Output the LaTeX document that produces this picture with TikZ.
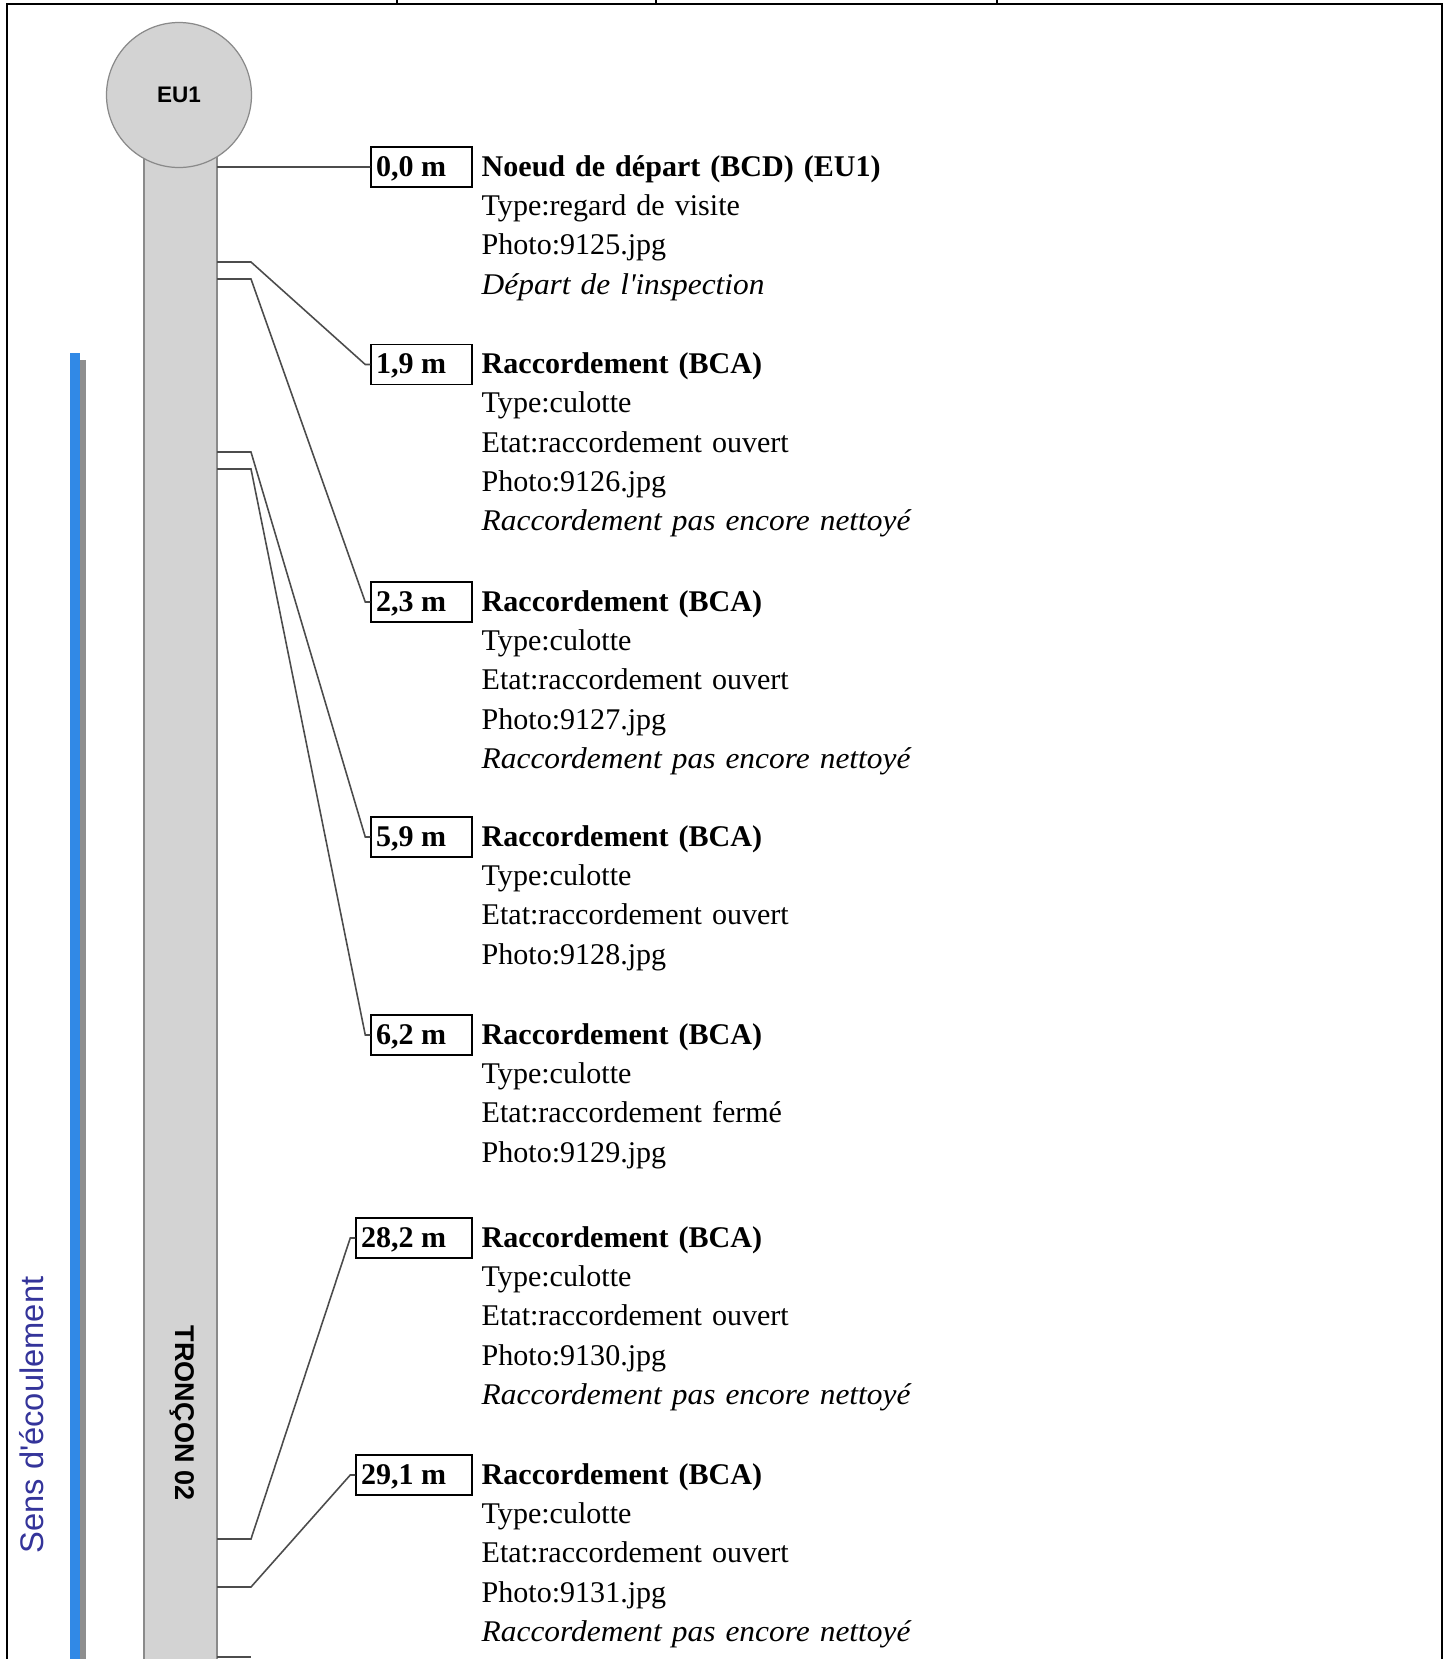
\documentclass[tikz,border=0pt]{standalone}
\usepackage{fontspec}
\setmainfont{Liberation Serif}[ItalicFeatures={FakeStretch=1.045}]
\setsansfont{Liberation Sans}
\usetikzlibrary{calc,positioning}
\definecolor{PipeGray}{HTML}{D3D3D3}
\definecolor{EdgeGray}{HTML}{8A8A8A}
\definecolor{FlowBlue}{HTML}{3189E6}
\definecolor{FlowShade}{HTML}{8E8E8E}
\definecolor{FlowText}{HTML}{34349A}
\tikzset{
  frame/.style={draw=black,line width=.8pt},
  pipe/.style={fill=PipeGray,draw=EdgeGray,line width=.45pt},
  manhole/.style={circle,fill=PipeGray,draw=EdgeGray,line width=.35pt,
    minimum size=1.45cm,inner sep=0pt,
    font=\sffamily\bfseries\fontsize{6.4}{7}\selectfont},
  lead/.style={draw=black!70,line width=.45pt},
  distbox/.style={draw=black,line width=.45pt,anchor=base east,
    inner xsep=.5mm,inner ysep=.4mm,text height=2.5mm,text depth=.7mm,
    font=\bfseries\fontsize{8.55}{11.2}\selectfont,
    execute at end node={\kern.7em}},
  entry/.style={anchor=base west,text width=9cm,align=left,inner sep=0pt,
    font=\fontsize{8.55}{11.2}\selectfont},
  flowlabel/.style={font=\sffamily\fontsize{9.3}{11}\selectfont,
    text=FlowText,rotate=90,inner sep=0pt},
  pipelabel/.style={font=\sffamily\bfseries\fontsize{7.7}{9}\selectfont,
    rotate=-90,inner sep=0pt}
}
\begin{document}
\begin{tikzpicture}[x=1cm,y=1cm]
  \useasboundingbox (0,0) rectangle (14.47,-16.59);
  \draw[frame] (0.07,-16.8) |- (14.42,-0.04) -- (14.42,-16.8);
  \foreach \xx in {3.97,6.56,9.97}
    \draw[frame] (\xx,0.05) -- (\xx,-0.04);

  \fill[FlowShade] (0.80,-3.60) rectangle (0.86,-16.8);
  \fill[FlowBlue] (0.70,-3.53) rectangle (0.80,-16.8);
  \node[flowlabel] (flow) at (0.32,-14.15) {Sens d\textquotesingle écoulement};

  \draw[pipe] (1.44,-16.8) rectangle (2.17,-1.57);
  \node[pipelabel] (tron) at (1.82,-14.13) {TRONÇON 02};
  \node[manhole] (EU1) at (1.79,-0.95) {EU1};

  \coordinate (t0) at (2.17,-1.67);
  \coordinate (t1) at (2.17,-2.62);
  \coordinate (t2) at (2.17,-2.79);
  \coordinate (t3) at (2.17,-4.52);
  \coordinate (t4) at (2.17,-4.69);
  \coordinate (t5) at (2.17,-15.39);
  \coordinate (t6) at (2.17,-15.87);
  \coordinate (t7) at (2.17,-16.57);

  \node[distbox] (d0) at (4.73,-1.76) {0,0 m};
  \node[distbox] (d1) at (4.73,-3.735) {1,9 m};
  \node[distbox] (d2) at (4.73,-6.11) {2,3 m};
  \node[distbox] (d3) at (4.73,-8.46) {5,9 m};
  \node[distbox] (d4) at (4.73,-10.44) {6,2 m};
  \node[distbox] (d5) at (4.73,-12.47) {28,2 m};
  \node[distbox] (d6) at (4.73,-14.84) {29,1 m};

  \node[entry] (e0) at ($(d0.base east)+(0.08,0)$)
    {\textbf{Noeud de départ (BCD) (EU1)}\\Type:regard de visite\\
     Photo:9125.jpg\\\textit{Départ de l\textquotesingle inspection}};
  \node[entry] (e1) at ($(d1.base east)+(0.08,0)$)
    {\textbf{Raccordement (BCA)}\\Type:culotte\\Etat:raccordement ouvert\\
     Photo:9126.jpg\\\textit{Raccordement pas encore nettoyé}};
  \node[entry] (e2) at ($(d2.base east)+(0.08,0)$)
    {\textbf{Raccordement (BCA)}\\Type:culotte\\Etat:raccordement ouvert\\
     Photo:9127.jpg\\\textit{Raccordement pas encore nettoyé}};
  \node[entry] (e3) at ($(d3.base east)+(0.08,0)$)
    {\textbf{Raccordement (BCA)}\\Type:culotte\\Etat:raccordement ouvert\\
     Photo:9128.jpg};
  \node[entry] (e4) at ($(d4.base east)+(0.08,0)$)
    {\textbf{Raccordement (BCA)}\\Type:culotte\\Etat:raccordement fermé\\
     Photo:9129.jpg};
  \node[entry] (e5) at ($(d5.base east)+(0.08,0)$)
    {\textbf{Raccordement (BCA)}\\Type:culotte\\Etat:raccordement ouvert\\
     Photo:9130.jpg\\\textit{Raccordement pas encore nettoyé}};
  \node[entry] (e6) at ($(d6.base east)+(0.08,0)$)
    {\textbf{Raccordement (BCA)}\\Type:culotte\\Etat:raccordement ouvert\\
     Photo:9131.jpg\\\textit{Raccordement pas encore nettoyé}};

  \draw[lead] (t0) -- (d0.west);
  \foreach \tp/\bx in {t1/d1,t2/d2,t3/d3,t4/d4,t5/d5,t6/d6}
    \draw[lead] (\tp) -- ++(0.34,0) -- ($(\bx.west)+(-0.05,0)$) -- (\bx.west);
  \draw[lead] (t7) -- ++(0.34,0);
\end{tikzpicture}
\end{document}
